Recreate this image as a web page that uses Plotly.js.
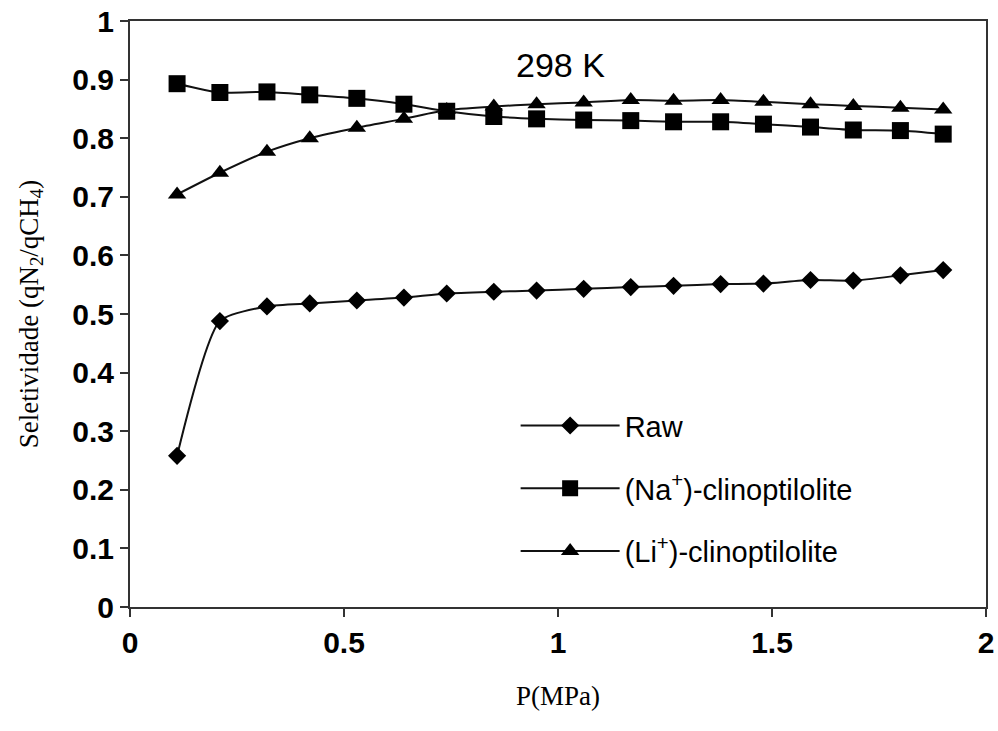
<!DOCTYPE html>
<html>
<head>
<meta charset="utf-8">
<script src="https://cdn.plot.ly/plotly-3.0.1.min.js"></script>
<style>html,body{margin:0;padding:0;background:#fff;}#chart{width:998px;height:731px;}</style>
</head>
<body>
<div id="chart"></div>
<script>
var pressure = [0.11, 0.21, 0.32, 0.42, 0.53, 0.64, 0.74, 0.85, 0.95, 1.06, 1.17, 1.27, 1.38, 1.48, 1.59, 1.69, 1.80, 1.90];
var rawSel = [0.258, 0.488, 0.513, 0.518, 0.523, 0.528, 0.535, 0.538, 0.540, 0.543, 0.546, 0.548, 0.551, 0.552, 0.558, 0.557, 0.566, 0.575];
var naSel = [0.893, 0.878, 0.879, 0.874, 0.868, 0.858, 0.846, 0.837, 0.833, 0.831, 0.830, 0.828, 0.828, 0.824, 0.819, 0.814, 0.813, 0.807];
var liSel = [0.704, 0.741, 0.777, 0.800, 0.818, 0.833, 0.848, 0.854, 0.858, 0.861, 0.865, 0.864, 0.865, 0.862, 0.858, 0.855, 0.852, 0.849];
var seriesNames = ['Raw', '(Na<sup>+</sup>)-clinoptilolite', '(Li<sup>+</sup>)-clinoptilolite'];
var xTicks = [0, 0.5, 1, 1.5, 2];
var xTickText = ['0', '0.5', '1', '1.5', '2'];
var yTicks = [0, 0.1, 0.2, 0.3, 0.4, 0.5, 0.6, 0.7, 0.8, 0.9, 1];
var yTickText = ['0', '0.1', '0.2', '0.3', '0.4', '0.5', '0.6', '0.7', '0.8', '0.9', '1'];

function mk(y, name, symbol, size, grp) {
  return {
    x: pressure, y: y, name: name, type: 'scatter', mode: 'lines+markers',
    legendgroup: grp,
    line: {color: '#111', width: 2, shape: 'spline', smoothing: 0.6},
    marker: {symbol: symbol, size: size, color: '#000'}
  };
}
var data = [
  mk(rawSel, seriesNames[0], 'diamond', 14, 'a'),
  mk(naSel, seriesNames[1], 'square', 17, 'b'),
  mk(liSel, seriesNames[2], 'triangle-up', 16, 'c')
];
var axisFont = {family: 'Liberation Sans, Arial, sans-serif', size: 30, color: '#000', weight: 'bold'};
var layout = {
  width: 998, height: 731,
  margin: {l: 130, r: 12, t: 21, b: 124},
  paper_bgcolor: '#fff', plot_bgcolor: '#fff',
  showlegend: true,
  legend: {
    x: 0.4505, y: 0.353, xanchor: 'left', yanchor: 'top',
    font: {family: 'Liberation Sans, Arial, sans-serif', size: 29, color: '#000'},
    bgcolor: 'rgba(0,0,0,0)', tracegroupgap: 22, itemwidth: 99
  },
  xaxis: {
    range: [0, 2], tickvals: xTicks, ticktext: xTickText,
    showgrid: false, zeroline: false,
    showline: true, linecolor: '#333', linewidth: 2, mirror: true,
    ticks: 'outside', ticklen: 8, tickwidth: 2, tickcolor: '#333',
    tickfont: axisFont,
    title: {text: 'P(MPa)', standoff: 28, font: {family: 'Liberation Serif, Times New Roman, serif', size: 27, color: '#000'}}
  },
  yaxis: {
    range: [0, 1], tickvals: yTicks, ticktext: yTickText,
    showgrid: false, zeroline: false,
    showline: true, linecolor: '#333', linewidth: 2, mirror: true,
    ticks: 'outside', ticklen: 8, tickwidth: 2, tickcolor: '#333',
    tickfont: axisFont,
    title: {text: 'Seletividade (qN<sub>2</sub>/qCH<sub>4</sub>)', standoff: 26, font: {family: 'Liberation Serif, Times New Roman, serif', size: 27, color: '#000'}}
  },
  annotations: [{
    text: '298 K', xref: 'paper', yref: 'paper', x: 0.503, y: 0.96,
    showarrow: false, font: {family: 'Liberation Sans, Arial, sans-serif', size: 34, color: '#000'}
  }]
};
Plotly.newPlot('chart', data, layout, {displayModeBar: false, staticPlot: true});
</script>
</body>
</html>
